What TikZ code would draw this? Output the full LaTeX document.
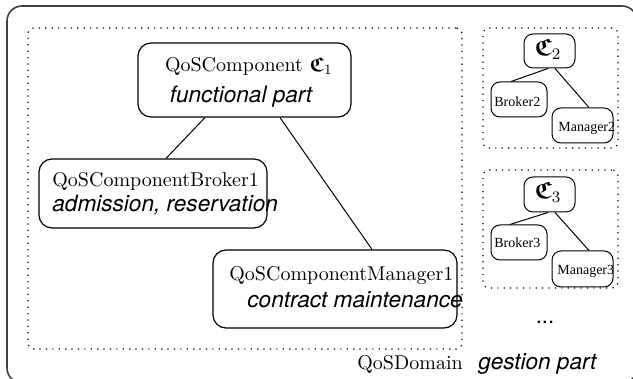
\documentclass[tikz,border=0pt]{standalone}
\usepackage{amsmath,amssymb}
\usepackage{fontspec}
\newfontfamily\helv{TeX Gyre Heros}
\newfontfamily\tms{Liberation Serif}
\begin{document}
\begin{tikzpicture}[x=0.5pt,y=-0.5pt,
  box/.style={draw, rounded corners=6.5pt, line width=0.6pt, inner sep=0pt},
  sbox/.style={draw, rounded corners=4.5pt, line width=0.5pt, inner sep=0pt},
  dotbox/.style={draw, dash pattern=on 0.6pt off 2.6pt, rounded corners=3pt, line width=0.6pt, inner sep=0pt},
  lbl/.style={inner sep=0pt, anchor=base west, font=\fontsize{10}{12}\selectfont},
  itl/.style={inner sep=0pt, anchor=base west, font=\helv\itshape\fontsize{11.3}{13}\selectfont},
  sml/.style={inner sep=0pt, anchor=base west, font=\tms\fontsize{7}{8}\selectfont},
  conn/.style={line width=0.5pt}]
\useasboundingbox (0,0) rectangle (633,379);
\clip (0,0) rectangle (633,379);
% outer frame
\draw[black!75, line width=0.8pt, rounded corners=7.5pt] (7,6) rectangle (637,383);
% QoSDomain
\node[dotbox, minimum width=217pt, minimum height=160.5pt] (dom) at (245,188.5) {};
\node[box, minimum width=106.5pt, minimum height=37pt] (comp1) at (244.5,80) {};
\node[box, minimum width=114pt, minimum height=34.5pt] (brk1) at (153,193.5) {};
\node[box, minimum width=122pt, minimum height=39pt] (mgr1) at (335,289) {};
\node[lbl, anchor=base] (t1) at (249,72) {QoSComponent $\boldsymbol{\mathfrak{C}}_1$};
\node[itl, anchor=base] (t2) at (241,103) {functional part};
\node[lbl] (t3) at (52,187) {QoSComponentBroker1};
\node[itl] (t4) at (52,212) {admission, reservation};
\node[lbl] (t5) at (229,281) {QoSComponentManager1};
\node[itl] (t6) at (247,308) {contract maintenance};
\draw[conn] ([xshift=-19.75pt]comp1.south) -- ([xshift=6.5pt]brk1.north);
\draw[conn] ([xshift=17.75pt]comp1.south) -- ([xshift=18.5pt]mgr1.north);
% second component
\node[dotbox, minimum width=67.5pt, minimum height=60pt] (d2) at (550.5,88) {};
\node[sbox, minimum width=25.5pt, minimum height=17pt] (c2) at (549.5,51) {};
\node[sbox, minimum width=28pt, minimum height=17.5pt] (b2) at (519,99.5) {};
\node[sbox, minimum width=30.5pt, minimum height=17.5pt] (m2) at (582.5,125.5) {};
\node[inner sep=0pt, anchor=base, font=\fontsize{12}{14}\selectfont] (c2t) at (548,56) {$\boldsymbol{\mathfrak{C}}_2$};
\node[sml] (b2t) at (494,107) {Broker2};
\node[sml] (m2t) at (558,132) {Manager2};
\draw[conn] ([xshift=-0.75pt]c2.south) -- ([xshift=-4pt]b2.north);
\draw[conn] ([xshift=2.75pt]c2.south) -- ([xshift=3.25pt]m2.north);
% third component
\node[dotbox, minimum width=67.5pt, minimum height=59pt] (d3) at (550.5,229) {};
\node[sbox, minimum width=25.5pt, minimum height=17.5pt] (c3) at (549.5,194.5) {};
\node[sbox, minimum width=28pt, minimum height=17.5pt] (b3) at (519,242.5) {};
\node[sbox, minimum width=30.5pt, minimum height=18pt] (m3) at (582.5,269) {};
\node[inner sep=0pt, anchor=base, font=\fontsize{12}{14}\selectfont] (c3t) at (548,199) {$\boldsymbol{\mathfrak{C}}_3$};
\node[sml] (b3t) at (494,248) {Broker3};
\node[sml] (m3t) at (557,275) {Manager3};
\draw[conn] ([xshift=-0.75pt]c3.south) -- ([xshift=-4.5pt]b3.north);
\draw[conn] ([xshift=2.75pt]c3.south) -- ([xshift=3.25pt]m3.north);
% bottom texts
\node[itl, anchor=base, font=\helv\fontsize{11}{13}\selectfont] (dots) at (545,324) {...};
\node[lbl] (qd) at (357,370) {QoSDomain};
\node[itl] (gp) at (478,370) {gestion part};
\end{tikzpicture}
\end{document}
